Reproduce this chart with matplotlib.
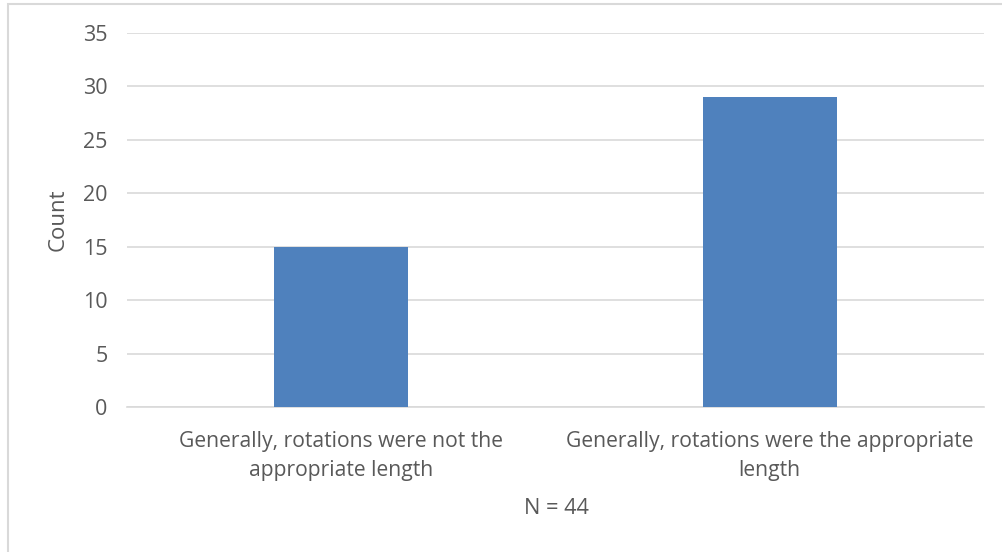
import matplotlib.pyplot as plt
import matplotlib.patches as mpatches

categories = ["Generally, rotations were not the\nappropriate length",
              "Generally, rotations were the appropriate\nlength"]
counts = [15, 29]
y_ticks = [0, 5, 10, 15, 20, 25, 30, 35]

plt.rcParams['font.family'] = ['Open Sans', 'DejaVu Sans']
text_color = '#595959'
grid_color = '#d9d9d9'

fig = plt.figure(figsize=(10.03, 5.52), dpi=100)
ax = fig.add_axes([127/1003, 1-407/552, (984-127)/1003, (407-33)/552])

x = list(range(len(categories)))
ax.bar(x, counts, width=0.313, color='#4f81bd', zorder=3)

ax.set_xlim(-0.5, len(categories)-0.5)
ax.set_ylim(0, 35)
ax.set_yticks(y_ticks)
ax.set_xticks(x)
ax.set_xticklabels(categories, fontsize=15.2, color=text_color, linespacing=1.5)
ax.tick_params(axis='y', labelsize=15.5, labelcolor=text_color, length=0, pad=14)
ax.tick_params(axis='x', length=0, pad=17.5)
ax.yaxis.grid(True, color=grid_color, linewidth=1.2, zorder=0)
for s in ['top', 'right', 'left']:
    ax.spines[s].set_visible(False)
ax.spines['bottom'].set_color(grid_color)
ax.spines['bottom'].set_linewidth(1.2)

ax.set_ylabel('Count', fontsize=16, color=text_color, labelpad=10)
fig.text(556/1003, 1-509/552, 'N = 44', ha='center', va='center',
         fontsize=15.7, color=text_color)

# outer chart border
fig.patches.append(mpatches.Rectangle((8/1003, -0.1), 1.2, 1-4/552+0.1,
                                      transform=fig.transFigure, fill=False,
                                      edgecolor=grid_color, linewidth=1.5))

fig.savefig('out.png', dpi=100)
